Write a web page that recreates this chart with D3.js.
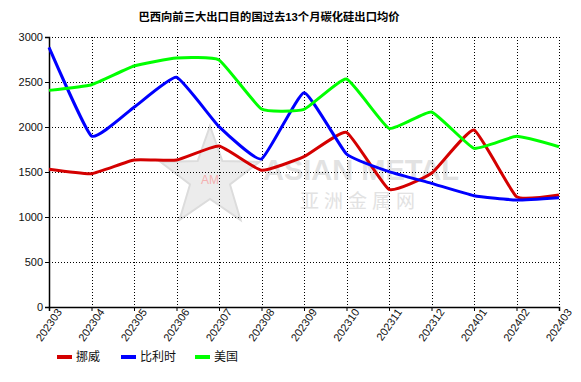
<!DOCTYPE html>
<html><head><meta charset="utf-8">
<script src="https://cdn.jsdelivr.net/npm/d3@7"></script>
<style>body{margin:0;background:#fff}svg{display:block}</style>
</head><body><svg id="c" width="581" height="382"></svg>
<script>
const months = ["202303","202304","202305","202306","202307","202308","202309","202310","202311","202312","202401","202402","202403"];
const norway = [1530,1481,1633,1633,1789,1519,1670,1941,1307,1485,1967,1226,1244];
const belgium = [2885,1900,2219,2552,2004,1644,2381,1700,1504,1374,1237,1189,1215];
const usa = [2407,2470,2678,2767,2744,2200,2196,2533,1985,2167,1763,1896,1781];
const seriesNames = ["挪威","比利时","美国"];
const seriesColors = ["#d40000","#0000ff","#00ff00"];
const yTicks = [0,500,1000,1500,2000,2500,3000];
const title = "巴西向前三大出口目的国过去13个月碳化硅出口均价";

const svg = d3.select("#c");
const L=49,R=559,T=37,B=307;
const x = d3.scalePoint().domain(months).range([L,R]);
const y = d3.scaleLinear().domain([0,3000]).range([B,T]);
const font = "Arial, 'Liberation Sans', 'Noto Sans CJK SC', sans-serif";

svg.append("text").attr("x",269).attr("y",21).attr("text-anchor","middle")
  .attr("font-family",font).attr("font-size",11.3).attr("font-weight","bold").attr("fill","#000").text(title);

// watermark
const wm = svg.append("g");
const cx=210, cy=178, ro=52, ri=21;
const pts=[];
for(let i=0;i<10;i++){const a=-Math.PI/2+i*Math.PI/5;const r=i%2?ri:ro;pts.push([cx+r*Math.cos(a),cy+r*Math.sin(a)]);}
wm.append("polygon").attr("points",pts.map(p=>p.join(",")).join(" ")).attr("fill","#ececec").attr("stroke","#dcdcdc").attr("stroke-width",2);
wm.append("text").attr("x",210).attr("y",184).attr("text-anchor","middle").attr("font-family",font).attr("font-size",12).attr("fill","#f4b0b0").text("AM");
wm.append("text").attr("x",263).attr("y",180).attr("font-family",font).attr("font-size",29).attr("font-weight","bold").attr("fill","#e2e2e2").text("ASIAN METAL");
wm.append("text").attr("x",300).attr("y",208).attr("font-family",font).attr("font-size",19).attr("fill","#e2e2e2").attr("letter-spacing",5).text("亚洲金属网");

// grid
const grid = svg.append("g").attr("stroke","#000").attr("stroke-width",1).attr("stroke-dasharray","1,2").attr("shape-rendering","crispEdges");
yTicks.filter(v=>v>0).forEach(v=>grid.append("line").attr("x1",L).attr("x2",R).attr("y1",Math.round(y(v))+0.5).attr("y2",Math.round(y(v))+0.5));
months.slice(1).forEach(m=>grid.append("line").attr("x1",Math.round(x(m))+0.5).attr("x2",Math.round(x(m))+0.5).attr("y1",T).attr("y2",B));

// axes
const yAxis = d3.axisLeft(y).tickValues(yTicks).tickSize(4).tickPadding(2).tickFormat(d3.format("d"));
const gy = svg.append("g").attr("transform",`translate(${L},0)`).call(yAxis);
gy.selectAll("text").attr("font-family",font).attr("font-size",11).attr("fill","#111");
gy.select(".domain").attr("stroke-width",1.5);
const xAxis = d3.axisBottom(x).tickSize(4).tickPadding(3);
const gx = svg.append("g").attr("transform",`translate(0,${B})`).call(xAxis);
gx.select(".domain").attr("stroke-width",1.5);
gx.selectAll("text").attr("font-family",font).attr("font-size",11).attr("fill","#111")
  .attr("text-anchor","end").attr("dx","0.3em").attr("dy","0.6em").attr("transform","rotate(-55)");

// lines
const line = d3.line().x((d,i)=>x(months[i])).y(d=>y(d)).curve(d3.curveCardinal.tension(0.6));
[norway,belgium,usa].forEach((s,k)=>{
  svg.append("path").attr("d",line(s)).attr("fill","none").attr("stroke",seriesColors[k]).attr("stroke-width",3).attr("stroke-linejoin","round");
});

// legend
const lx=[57,121,195];
seriesNames.forEach((n,k)=>{
  const g=svg.append("g");
  g.append("line").attr("x1",lx[k]).attr("x2",lx[k]+15).attr("y1",357).attr("y2",357).attr("stroke",seriesColors[k]).attr("stroke-width",4);
  g.append("text").attr("x",lx[k]+19).attr("y",361).attr("font-family",font).attr("font-size",12).attr("fill","#111").text(n);
});
</script></body></html>
